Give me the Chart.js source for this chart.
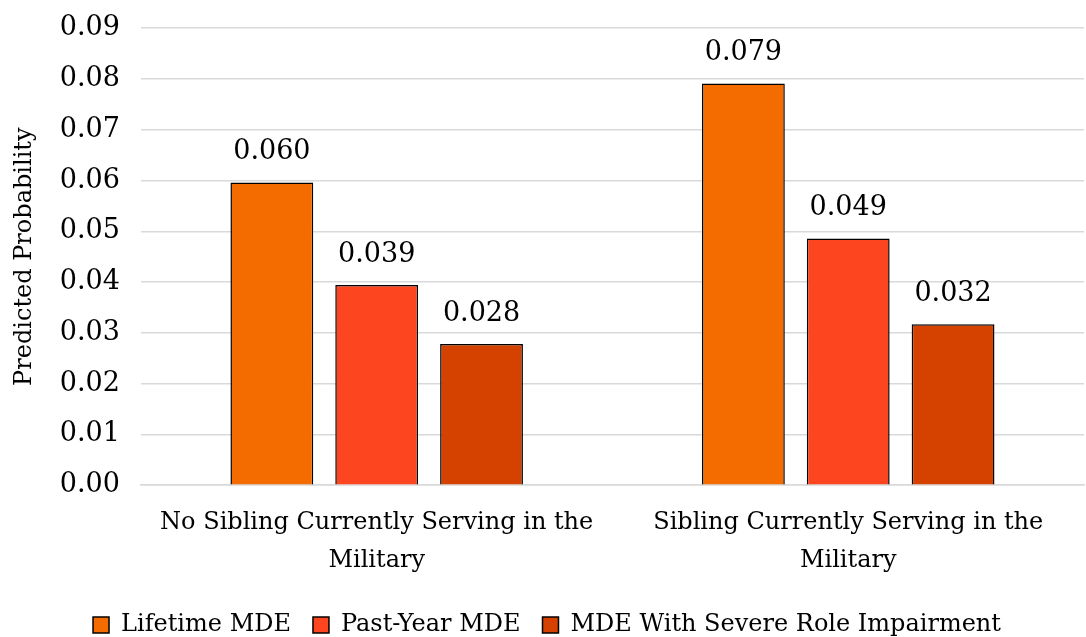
<!DOCTYPE html>
<html>
<head>
<meta charset="utf-8">
<script src="https://cdn.jsdelivr.net/npm/chart.js@4"></script>
<style>
  html, body { margin: 0; padding: 0; background: #fff; overflow: hidden; }
  #wrap { width: 1086px; height: 637px; overflow: hidden; }
  #chart { display: block; margin-top: -9px; }
</style>
</head>
<body>
<div id="wrap"><canvas id="chart" width="1086" height="650"></canvas></div>
<script>
const categories = [
  ['No Sibling Currently Serving in the', 'Military'],
  ['Sibling Currently Serving in the', 'Military']
];
const seriesNames = ['Lifetime MDE', 'Past-Year MDE', 'MDE With Severe Role Impairment'];
const lifetime = [0.0596, 0.0791];
const pastYear = [0.0394, 0.0486];
const severe = [0.0278, 0.0317];
const colors = ['#f46b00', '#fd4520', '#d54200'];

const font = "'DejaVu Serif', 'Liberation Serif', serif";

const valueLabels = {
  id: 'valueLabels',
  afterDatasetsDraw(chart) {
    const ctx = chart.ctx;
    ctx.save();
    ctx.font = `27px ${font}`;
    ctx.fillStyle = '#000';
    ctx.textAlign = 'center';
    ctx.textBaseline = 'bottom';
    chart.data.datasets.forEach((ds, i) => {
      chart.getDatasetMeta(i).data.forEach((bar, j) => {
        ctx.fillText(ds.data[j].toFixed(3), bar.x, bar.y - 17);
      });
    });
    ctx.restore();
  }
};

new Chart(document.getElementById('chart'), {
  type: 'bar',
  data: {
    labels: categories,
    datasets: [lifetime, pastYear, severe].map((data, i) => ({
      label: seriesNames[i],
      data,
      backgroundColor: colors[i],
      borderColor: '#000',
      borderWidth: 1.5,
      categoryPercentage: 0.667,
      barPercentage: 0.79
    }))
  },
  options: {
    responsive: false,
    animation: false,
    layout: { padding: { top: 0, right: 2, left: 10, bottom: -6 } },
    scales: {
      x: {
        grid: { display: false },
        border: { color: '#d9d9d9', width: 1.5 },
        ticks: { color: '#000', font: { family: font, size: 24, lineHeight: 1.58 }, padding: 11 }
      },
      y: {
        min: 0,
        max: 0.09,
        ticks: {
          stepSize: 0.01,
          color: '#000',
          font: { family: font, size: 27 },
          padding: 21,
          callback: (v) => v.toFixed(2)
        },
        grid: { color: '#d9d9d9', lineWidth: 1.5, drawTicks: false },
        border: { display: false },
        title: {
          display: true,
          text: 'Predicted Probability',
          color: '#000',
          font: { family: font, size: 24 },
          padding: 0
        }
      }
    },
    plugins: {
      legend: {
        position: 'bottom',
        labels: {
          color: '#000',
          font: { family: font, size: 24 },
          boxWidth: 16,
          boxHeight: 16,
          padding: 22,
          useBorderRadius: false
        }
      },
      tooltip: { enabled: false }
    }
  },
  plugins: [valueLabels]
});
</script>
</body>
</html>
